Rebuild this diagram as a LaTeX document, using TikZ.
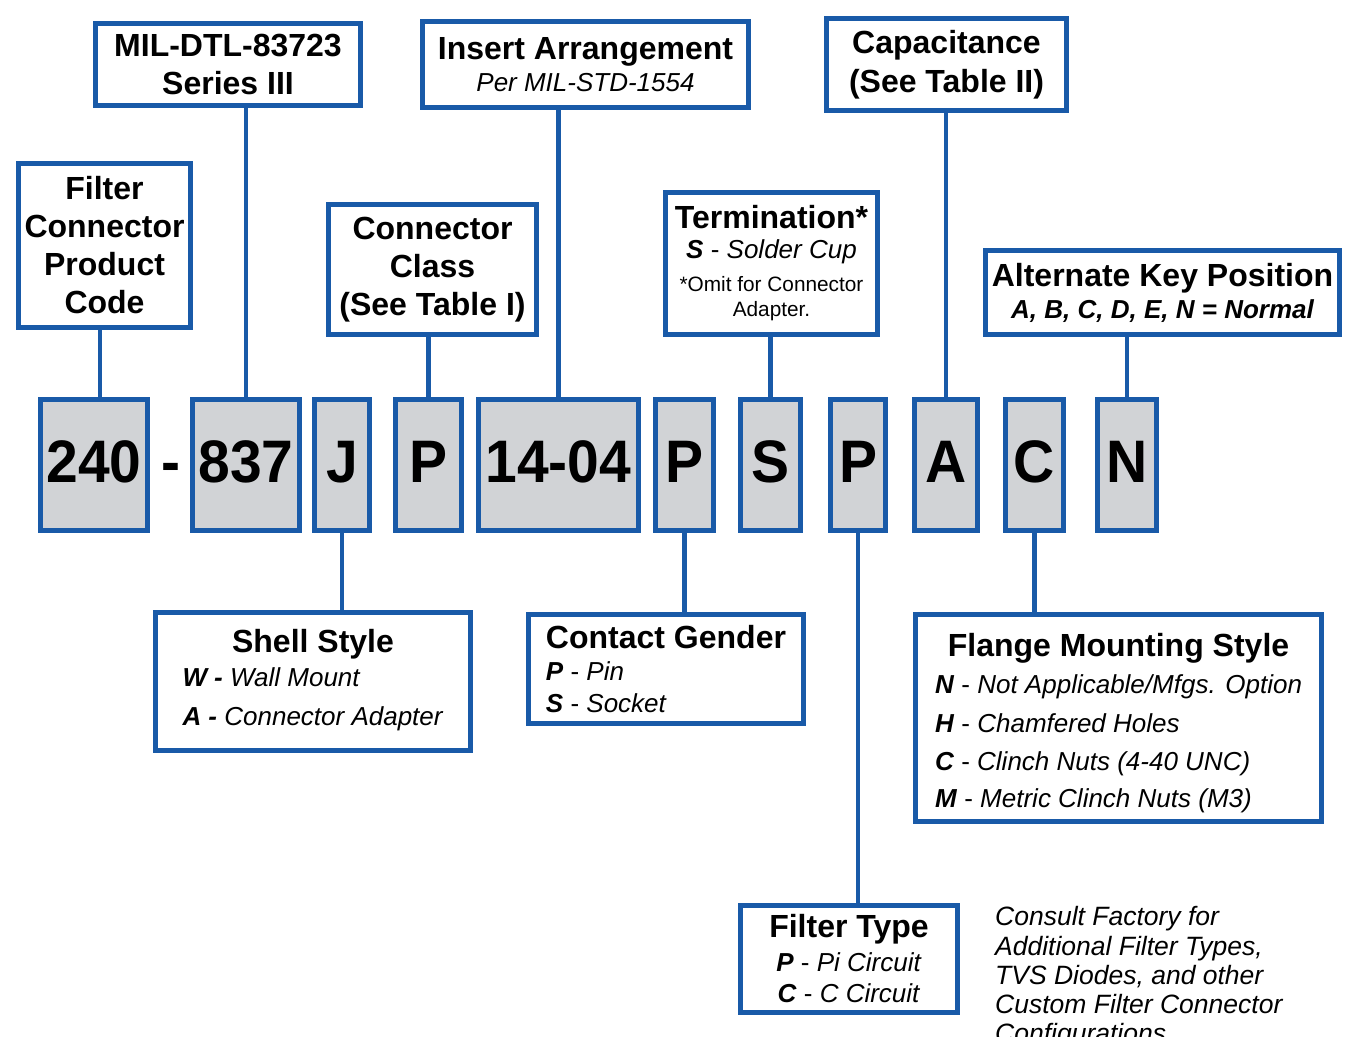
\documentclass[tikz,border=0pt]{standalone}
\usepackage{fontspec}
\setmainfont{Liberation Sans}
\newfontfamily\codefont[FakeStretch=0.95]{Liberation Sans}

\definecolor{pnblue}{RGB}{25,90,168}
\definecolor{pngray}{RGB}{209,211,214}

\newcommand{\subfont}{\fontsize{26}{32}\selectfont\mdseries}
\newcommand{\notefont}{\fontsize{20.8}{25}\selectfont\mdseries}
\newcommand{\opt}[2]{\textbf{\textit{#1}} - \textit{#2}}

\begin{document}
\begin{tikzpicture}[x=1pt,y=-1pt]

\tikzset{infobox/.style = {draw=pnblue, line width=5pt, fill=white, inner sep=2pt, align=center, font=\fontsize{32}{38}\selectfont\bfseries}}
\tikzset{codebox/.style = {draw=pnblue, line width=5pt, fill=pngray, inner sep=0pt, minimum height=131pt, text height=43pt, text depth=9pt, font=\codefont\fontsize{60}{60}\selectfont\bfseries}}
\tikzset{link/.style = {draw=pnblue, line width=4.5pt}}

\useasboundingbox (0,0) rectangle (1348,1036);

%part number
\node[codebox, minimum width=107pt] (c240) at (94,465) {240};
\node[font=\codefont\fontsize{60}{60}\selectfont\bfseries, inner sep=0pt, anchor=base] (dash) at (170.5,482) {-};
\node[codebox, minimum width=107pt] (c837) at (246,465) {837};
\node[codebox, minimum width=55pt] (cJ) at (342,465) {J};
\node[codebox, minimum width=66pt] (cP1) at (428.5,465) {P};
\node[codebox, minimum width=160pt] (c1404) at (558.5,465) {14-04};
\node[codebox, minimum width=58pt] (cP2) at (684.5,465) {P};
\node[codebox, minimum width=60pt] (cS) at (770.5,465) {S};
\node[codebox, minimum width=55pt] (cP3) at (858,465) {P};
\node[codebox, minimum width=63pt] (cA) at (946,465) {A};
\node[codebox, minimum width=58pt] (cC) at (1034.5,465) {C};
\node[codebox, minimum width=59pt] (cN) at (1127,465) {N};

%upper boxes
\node[infobox, minimum width=172pt, minimum height=164pt] (prod) at (104.5,245.5) {Filter\\Connector\\Product\\Code};
\node[infobox, minimum width=265pt, minimum height=82pt] (mil) at (228,64.5) {MIL-DTL-83723\\Series III};
\node[infobox, minimum width=208pt, minimum height=130pt] (class) at (432.5,269.5) {Connector\\Class\\(See Table I)};
\node[infobox, minimum width=326pt, minimum height=86pt] (insert) at (585.5,64.5) {Insert Arrangement\\[-6pt]{\subfont\itshape Per MIL-STD-1554}};
\node[infobox, minimum width=212pt, minimum height=142pt] (term) at (771.5,263.5) {Termination*\\[-8pt]{\subfont\opt{S}{Solder Cup}}\\[-5pt]{\notefont *Omit for Connector}\\[-13pt]{\notefont Adapter.}};
\node[infobox, minimum width=240pt, minimum height=92pt] (cap) at (946.5,64.5) {Capacitance\\[1pt](See Table II)};
\node[infobox, minimum width=354pt, minimum height=84pt] (key) at (1162.5,292.5) {Alternate Key Position\\[-6pt]{\subfont\bfseries\itshape A, B, C, D, E, N = Normal}};

%lower boxes
\node[infobox, minimum width=315pt, minimum height=138pt] (shell) at (313,681.5) {\begin{tabular}{@{}l@{}}
  \multicolumn{1}{@{}c@{}}{Shell Style}\\[-4pt]
  {\subfont\textbf{\textit{W -}} \textit{Wall Mount}}\\[1pt]
  {\subfont\textbf{\textit{A -}} \textit{Connector Adapter}}
\end{tabular}};
\node[infobox, align=left, minimum width=275pt, minimum height=109pt] (gender) at (666,669) {Contact Gender\\[-6pt]{\subfont\opt{P}{Pin}}\\[-6pt]{\subfont\opt{S}{Socket}}};
\node[infobox, minimum width=217pt, minimum height=107pt] (ftype) at (849,959) {Filter Type\\[-4pt]{\subfont\opt{P}{Pi Circuit}}\\[-7pt]{\subfont\opt{C}{C Circuit}}};
\node[infobox, minimum width=406pt, minimum height=207pt] (flange) at (1118.5,718) {\begin{tabular}{@{}l@{}}
  \multicolumn{1}{@{}c@{}}{\rule{0pt}{39pt}Flange Mounting Style}\\[-1pt]
  {\subfont\opt{N}{Not Applicable/Mfgs. Option}}\\[1pt]
  {\subfont\opt{H}{Chamfered Holes}}\\
  {\subfont\opt{C}{Clinch Nuts (4-40 UNC)}}\\[-1pt]
  {\subfont\opt{M}{Metric Clinch Nuts (M3)}}
\end{tabular}};

\node[anchor=north west, align=left, inner sep=0pt, font=\fontsize{26.5}{29.2}\selectfont\itshape] (note) at (995,906.5) {Consult Factory for\\Additional Filter Types,\\TVS Diodes, and other\\Custom Filter Connector\\Configurations};

%connectors
\coordinate (l240) at ([xshift=6pt]c240.north);
\draw[link] (l240) -- (l240 |- prod.south);
\draw[link] (c837.north) -- (c837.north |- mil.south);
\draw[link] (cP1.north) -- (cP1.north |- class.south);
\draw[link] (c1404.north) -- (c1404.north |- insert.south);
\draw[link] (cS.north) -- (cS.north |- term.south);
\draw[link] (cA.north) -- (cA.north |- cap.south);
\draw[link] (cN.north) -- (cN.north |- key.south);
\draw[link] (cJ.south) -- (cJ.south |- shell.north);
\draw[link] (cP2.south) -- (cP2.south |- gender.north);
\draw[link] (cP3.south) -- (cP3.south |- ftype.north);
\draw[link] (cC.south) -- (cC.south |- flange.north);

\end{tikzpicture}
\end{document}
